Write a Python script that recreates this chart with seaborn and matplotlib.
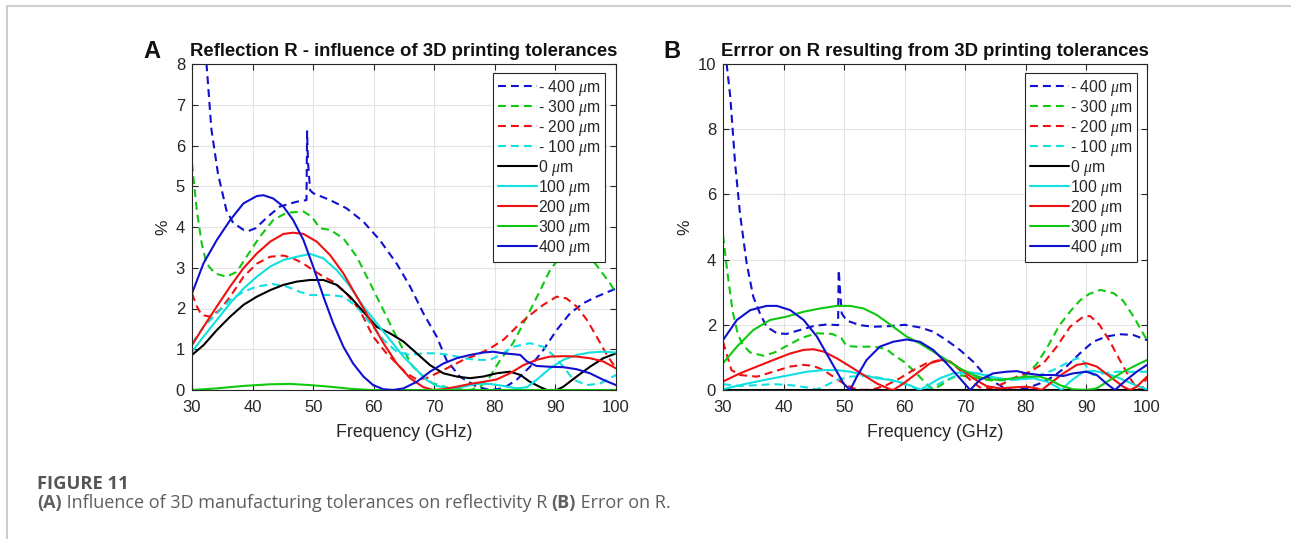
import matplotlib
matplotlib.use("Agg")
import matplotlib.pyplot as plt
import seaborn as sns
import pandas as pd
from matplotlib.lines import Line2D

# ---------------- Panel A : Reflection R (%) ----------------
A_m400_f = [30, 30.6, 31.2, 32.4, 33.2, 34.3, 35.7, 36.8, 38.5, 39.3, 40.5, 42.5, 44.5, 47.3, 48.9, 49.0, 49.15, 49.3, 49.5, 50, 52.8, 55.5, 58.3, 61, 63.8, 66, 68.2, 70.4, 72, 74.2, 77, 79.2, 81.4, 83.6, 85.8, 88, 90.2, 92.4, 94.6, 96.8, 100]
A_m400_v = [13, 11.5, 10, 8.0, 6.4, 5.3, 4.4, 4.1, 3.93, 3.9, 3.97, 4.25, 4.5, 4.62, 4.66, 6.35, 5.6, 5.3, 4.9, 4.83, 4.66, 4.46, 4.13, 3.68, 3.1, 2.54, 1.88, 1.31, 0.74, 0.33, 0.08, 0.0, 0.04, 0.25, 0.57, 0.98, 1.47, 1.88, 2.13, 2.29, 2.49]

A_m300_f = [30, 30.8, 31.6, 32.4, 33.8, 35.7, 37.4, 39, 41.2, 43.4, 45.6, 48.4, 49.8, 51.1, 52.8, 55, 57.2, 59.4, 61.6, 63.2, 64.9, 66.5, 68.2, 69.8, 72.6, 75.9, 77.6, 79.2, 80.9, 83, 85.3, 87.5, 89.1, 90.8, 92.4, 94.1, 95.7, 97.4, 99, 100]
A_m300_v = [5.56, 4.4, 3.6, 3.1, 2.86, 2.78, 2.9, 3.27, 3.76, 4.17, 4.35, 4.38, 4.25, 3.97, 3.93, 3.72, 3.27, 2.62, 1.96, 1.47, 0.98, 0.57, 0.33, 0.16, 0.04, 0.0, 0.08, 0.33, 0.74, 1.15, 1.8, 2.45, 2.94, 3.27, 3.44, 3.35, 3.27, 2.94, 2.62, 2.37]

A_m200_f = [30, 30.8, 31.6, 33, 34.6, 36.3, 38.5, 40.7, 42.9, 45.1, 46.7, 48.4, 50, 51.7, 53.3, 55.5, 57.7, 59.9, 62.1, 63.8, 65.4, 67.1, 68.7, 70.4, 72.6, 74.8, 77, 79.2, 81.4, 83.6, 85.8, 88, 90.2, 91.8, 93.5, 95.2, 96.8, 98.5, 100]
A_m200_v = [2.37, 2.05, 1.84, 1.8, 1.96, 2.29, 2.78, 3.1, 3.27, 3.3, 3.23, 3.1, 2.94, 2.78, 2.66, 2.37, 1.96, 1.31, 0.9, 0.65, 0.41, 0.26, 0.29, 0.41, 0.57, 0.74, 0.86, 1.02, 1.23, 1.55, 1.84, 2.09, 2.29, 2.25, 2.05, 1.72, 1.31, 0.86, 0.53]

A_m100_f = [30, 31.9, 34.1, 36.3, 38.5, 40.7, 43.4, 45.6, 47.8, 49.5, 51.1, 52.8, 55, 57.2, 59.4, 61.6, 63.8, 66, 68.2, 70.4, 72.6, 74.8, 77, 79.2, 80.9, 83, 85.8, 88, 89.6, 91.3, 93, 95.2, 97.4, 99, 100]
A_m100_v = [1.15, 1.55, 1.88, 2.21, 2.41, 2.54, 2.6, 2.54, 2.41, 2.33, 2.33, 2.33, 2.29, 2.05, 1.64, 1.23, 0.94, 0.86, 0.9, 0.9, 0.86, 0.78, 0.74, 0.74, 0.86, 1.06, 1.15, 1.06, 0.86, 0.57, 0.25, 0.12, 0.16, 0.29, 0.37]

A_0_f = [30, 31.9, 34.1, 36.3, 38.5, 40.7, 42.9, 45.1, 47.3, 49.5, 51.7, 53.9, 56.1, 58.3, 60.5, 62.7, 64.9, 67.1, 69.3, 71.5, 73.7, 75.9, 78.1, 80.3, 82.5, 84.2, 85.8, 87.5, 88.6, 90.2, 91.3, 93.5, 95.7, 97.9, 100]
A_0_v = [0.86, 1.1, 1.47, 1.8, 2.09, 2.29, 2.45, 2.58, 2.66, 2.7, 2.7, 2.58, 2.29, 1.92, 1.55, 1.39, 1.19, 0.9, 0.61, 0.41, 0.33, 0.29, 0.33, 0.41, 0.45, 0.37, 0.2, 0.07, 0.0, 0.0, 0.08, 0.33, 0.57, 0.78, 0.9]

A_100_f = [30, 31.9, 34.1, 36.3, 38.5, 40.7, 42.9, 45.1, 47.3, 49.5, 51.7, 53.9, 56.1, 58.3, 60.5, 62.7, 64.9, 67.1, 68.7, 70.4, 72.6, 74.8, 77, 79.2, 81.4, 83.6, 85.3, 86.9, 89.1, 91.3, 93.5, 95.7, 97.9, 100]
A_100_v = [0.94, 1.31, 1.72, 2.13, 2.49, 2.78, 3.03, 3.19, 3.27, 3.34, 3.23, 2.94, 2.54, 2.05, 1.64, 1.23, 0.82, 0.49, 0.25, 0.1, 0.04, 0.08, 0.15, 0.15, 0.1, 0.04, 0.07, 0.25, 0.53, 0.74, 0.86, 0.92, 0.94, 0.92]

A_200_f = [30, 31.9, 34.1, 36.3, 38.5, 40.7, 42.9, 45.1, 46.7, 48.4, 50.6, 52.8, 55, 57.2, 59.4, 61.6, 63.8, 66, 68.2, 69.8, 71.5, 73.7, 75.9, 78.1, 80.3, 82.5, 84.7, 86.9, 89.1, 91.3, 93.5, 95.7, 97.9, 100]
A_200_v = [1.1, 1.55, 2.05, 2.54, 2.99, 3.35, 3.64, 3.83, 3.86, 3.83, 3.64, 3.31, 2.86, 2.29, 1.72, 1.15, 0.65, 0.29, 0.07, 0.0, 0.02, 0.08, 0.15, 0.2, 0.26, 0.41, 0.61, 0.74, 0.82, 0.83, 0.82, 0.78, 0.7, 0.53]

A_300_f = [30, 34.1, 38.5, 42.9, 46.2, 49.5, 52.8, 56.1, 59.4, 65, 70, 75, 80, 85, 90, 95, 100]
A_300_v = [0.0, 0.04, 0.1, 0.14, 0.15, 0.12, 0.08, 0.03, 0.0, 0.0, 0.0, 0.0, 0.0, 0.0, 0.0, 0.0, 0.0]

A_400_f = [30, 31.9, 34.1, 36.3, 38.5, 40.7, 41.8, 43.4, 45.1, 46.7, 48.4, 50, 51.7, 53.3, 55, 56.6, 58.3, 59.9, 61.6, 63.2, 64.9, 67.1, 69.3, 71.5, 73.7, 75.9, 78.1, 79.7, 81.4, 83, 84.2, 85.3, 86.9, 89.1, 91.3, 93.5, 95.7, 97.9, 100]
A_400_v = [2.37, 3.11, 3.68, 4.17, 4.58, 4.76, 4.78, 4.7, 4.5, 4.17, 3.68, 3.03, 2.29, 1.64, 1.06, 0.65, 0.33, 0.12, 0.02, 0.0, 0.04, 0.2, 0.45, 0.65, 0.78, 0.86, 0.92, 0.94, 0.9, 0.88, 0.86, 0.7, 0.59, 0.57, 0.56, 0.51, 0.41, 0.25, 0.12]

# ---------------- Panel B : Error on R (%) ----------------
B_m400_f = [30, 30.6, 31.2, 32, 32.8, 33.9, 35, 36.1, 37.2, 38.9, 40.5, 42.7, 44.9, 47.1, 49.0, 49.1, 49.4, 49.6, 50.4, 52.6, 54.8, 57.6, 60, 62.5, 64.7, 66.9, 69.1, 71.3, 73, 74.6, 76.3, 77.9, 80.1, 82.3, 84.5, 86.7, 88.9, 91.1, 93.3, 95.5, 97.7, 100]
B_m400_v = [12, 10, 9.0, 6.95, 5.42, 3.89, 2.86, 2.35, 1.94, 1.74, 1.72, 1.84, 1.96, 2.01, 1.99, 3.68, 2.86, 2.35, 2.13, 1.99, 1.94, 1.96, 2.0, 1.92, 1.79, 1.53, 1.23, 0.87, 0.51, 0.26, 0.08, 0.0, 0.05, 0.2, 0.41, 0.72, 1.12, 1.48, 1.64, 1.71, 1.69, 1.53]

B_m300_f = [30, 30.8, 31.6, 32.4, 33.2, 34.5, 36.7, 38.5, 40.5, 43, 45.5, 48, 49.5, 50.4, 52, 55, 57, 58, 60, 62, 63.5, 64.7, 66, 67.5, 69, 71, 74, 77, 80, 81.8, 83.5, 85.6, 87.5, 89, 90.5, 92.3, 94.5, 96, 97.8, 99, 100]
B_m300_v = [4.75, 3.5, 2.4, 1.75, 1.4, 1.15, 1.05, 1.15, 1.35, 1.6, 1.74, 1.72, 1.6, 1.35, 1.33, 1.33, 1.25, 1.1, 0.85, 0.5, 0.2, 0.02, 0.15, 0.35, 0.45, 0.4, 0.3, 0.3, 0.45, 0.8, 1.3, 2.0, 2.45, 2.76, 2.95, 3.07, 2.97, 2.75, 2.25, 1.85, 1.53]

B_m200_f = [30, 31.4, 32.8, 35.6, 38.3, 41.1, 43.3, 44.9, 46.6, 48.2, 49.9, 51.5, 53.2, 54.8, 57, 59.2, 61.4, 63.6, 65.8, 67.5, 69.1, 70.8, 72.4, 74.1, 76.3, 78.5, 80.7, 82.9, 85.1, 87.3, 89.5, 90.6, 92.2, 93.9, 95.5, 97.2, 98.3, 99.1, 100]
B_m200_v = [1.48, 0.61, 0.46, 0.41, 0.56, 0.72, 0.77, 0.74, 0.61, 0.41, 0.2, 0.05, 0.0, 0.02, 0.15, 0.36, 0.61, 0.82, 0.92, 0.87, 0.61, 0.31, 0.08, 0.05, 0.2, 0.41, 0.56, 0.82, 1.33, 1.94, 2.25, 2.27, 1.99, 1.48, 0.92, 0.36, 0.05, 0.0, 0.41]

B_m100_f = [30, 32.8, 35.6, 38.3, 41.1, 43.8, 45.5, 47.1, 48.8, 51, 53.2, 55.4, 57.6, 59.8, 62, 63.1, 64.7, 66.9, 69.1, 71.3, 73.5, 75.7, 77.9, 80.1, 82.3, 84.5, 86.7, 88.4, 89.2, 90, 91.1, 92.8, 95, 97.2, 100]
B_m100_v = [0.18, 0.12, 0.15, 0.18, 0.15, 0.08, 0.02, 0.15, 0.31, 0.41, 0.43, 0.39, 0.31, 0.18, 0.05, 0.0, 0.1, 0.31, 0.49, 0.53, 0.46, 0.33, 0.31, 0.36, 0.46, 0.61, 0.82, 0.97, 0.97, 0.72, 0.46, 0.51, 0.56, 0.56, 0.56]

B_0_f = [30, 50, 70, 100]
B_0_v = [0.0, 0.0, 0.0, 0.0]

B_100_f = [30, 32.8, 35.6, 38.3, 41.1, 43.8, 46.6, 48.8, 51, 53.2, 55.4, 57.6, 59.8, 61.4, 62.5, 63.6, 65.8, 68, 70.2, 72.4, 74.6, 76.8, 79, 81.2, 83.4, 85.1, 85.9, 87.3, 89.5, 91.1, 93.3, 95.5, 97.7, 100]
B_100_v = [0.02, 0.15, 0.26, 0.36, 0.46, 0.56, 0.61, 0.61, 0.56, 0.46, 0.36, 0.31, 0.22, 0.1, 0.0, 0.12, 0.36, 0.51, 0.56, 0.49, 0.39, 0.33, 0.33, 0.36, 0.26, 0.1, 0.0, 0.26, 0.56, 0.59, 0.51, 0.36, 0.18, 0.02]

B_200_f = [30, 32.8, 35.6, 38.3, 41.1, 43.3, 44.9, 46.6, 48.8, 51, 53.2, 55.4, 57.6, 58.1, 59.8, 62, 64.2, 66.1, 67.5, 69.1, 71.3, 73.5, 75.7, 77.9, 80.1, 81.8, 82.6, 84, 86.2, 88.4, 90, 91.7, 93.9, 96.1, 97.2, 98.3, 100]
B_200_v = [0.26, 0.51, 0.72, 0.92, 1.12, 1.23, 1.25, 1.18, 0.97, 0.72, 0.46, 0.2, 0.02, 0.0, 0.2, 0.51, 0.82, 0.92, 0.87, 0.66, 0.36, 0.12, 0.05, 0.08, 0.1, 0.05, 0.0, 0.2, 0.51, 0.77, 0.82, 0.72, 0.41, 0.1, 0.0, 0.1, 0.41]

B_300_f = [30, 32.3, 35, 37.8, 40.5, 43.3, 46, 48.8, 51, 53.2, 55.4, 58.1, 60.3, 62.5, 64.7, 66.9, 69.1, 71.3, 73.5, 75.7, 77.9, 80.1, 82.3, 84, 85.6, 87.8, 90, 91.7, 93.9, 96.1, 98.3, 100]
B_300_v = [0.82, 1.33, 1.84, 2.15, 2.25, 2.4, 2.5, 2.58, 2.58, 2.5, 2.3, 1.94, 1.64, 1.43, 1.18, 0.92, 0.66, 0.46, 0.33, 0.31, 0.36, 0.41, 0.41, 0.31, 0.15, 0.02, 0.0, 0.05, 0.31, 0.56, 0.77, 0.92]

B_400_f = [30, 32.3, 34.5, 37.2, 38.9, 41.1, 43.3, 45.5, 47.7, 49.9, 51, 52.1, 53.7, 55.9, 58.1, 60.3, 62.5, 64.7, 66.9, 69.1, 70.8, 72.4, 74.6, 76.8, 78.5, 80.1, 82.3, 84.5, 86.2, 87.8, 90, 91.7, 93.3, 94.7, 96.6, 98.3, 100]
B_400_v = [1.53, 2.15, 2.45, 2.58, 2.58, 2.45, 2.15, 1.64, 0.92, 0.2, 0.0, 0.41, 0.92, 1.33, 1.48, 1.55, 1.48, 1.23, 0.82, 0.36, 0.0, 0.31, 0.51, 0.56, 0.58, 0.51, 0.46, 0.46, 0.43, 0.51, 0.56, 0.46, 0.2, 0.0, 0.31, 0.56, 0.77]

series_labels = ["- 400 $\\mu$m", "- 300 $\\mu$m", "- 200 $\\mu$m", "- 100 $\\mu$m",
                 "0 $\\mu$m", "100 $\\mu$m", "200 $\\mu$m", "300 $\\mu$m", "400 $\\mu$m"]
series_colors = ["#1010d0", "#10c810", "#f01010", "#10e0e0",
                 "#000000", "#10e0e0", "#f01010", "#10c810", "#1010d0"]
series_dashed = [True, True, True, True, False, False, False, False, False]

panel_A = [(A_m400_f, A_m400_v), (A_m300_f, A_m300_v), (A_m200_f, A_m200_v), (A_m100_f, A_m100_v),
           (A_0_f, A_0_v), (A_100_f, A_100_v), (A_200_f, A_200_v), (A_300_f, A_300_v), (A_400_f, A_400_v)]
panel_B = [(B_m400_f, B_m400_v), (B_m300_f, B_m300_v), (B_m200_f, B_m200_v), (B_m100_f, B_m100_v),
           (B_0_f, B_0_v), (B_100_f, B_100_v), (B_200_f, B_200_v), (B_300_f, B_300_v), (B_400_f, B_400_v)]

titles = ["Reflection R - influence of 3D printing tolerances",
          "Errror on R resulting from 3D printing tolerances"]
panel_letters = ["A", "B"]
y_limits = [(0, 8), (0, 10)]
y_ticks = [[0, 1, 2, 3, 4, 5, 6, 7, 8], [0, 2, 4, 6, 8, 10]]
x_ticks = [30, 40, 50, 60, 70, 80, 90, 100]

sns.set_theme(style="white")
plt.rcParams["font.family"] = ["Liberation Sans", "DejaVu Sans"]
plt.rcParams["mathtext.fontset"] = "custom"
plt.rcParams["mathtext.it"] = "Liberation Serif:italic"

W, H = 1291, 539
fig = plt.figure(figsize=(W / 100, H / 100), dpi=100)
fig.patch.set_facecolor("white")

axes_px = [(192, 64, 616, 390), (723, 64, 1147, 390)]
legend_right_px = [605, 1137]
letter_x_px = [152, 672]
AX_COL = "#262626"
DASH = (3.8, 2.4)

for k, panel in enumerate([panel_A, panel_B]):
    l, t, r, b = axes_px[k]
    ax = fig.add_axes([l / W, 1 - b / H, (r - l) / W, (b - t) / H])
    handles = []
    for (f, v), lab, col, dsh in zip(panel, series_labels, series_colors, series_dashed):
        df = pd.DataFrame({"freq": f, "val": v})
        kw = dict(dashes=DASH) if dsh else {}
        sns.lineplot(data=df, x="freq", y="val", ax=ax, color=col, linewidth=1.5,
                     sort=False, estimator=None, legend=False, **kw)
        handles.append(Line2D([], [], color=col, linewidth=1.5, **kw))
    ax.set_xlim(30, 100)
    ax.set_ylim(*y_limits[k])
    ax.set_xticks(x_ticks)
    ax.set_yticks(y_ticks[k])
    ax.grid(True, color="#e3e3e3", linewidth=0.8)
    ax.set_axisbelow(True)
    for s in ax.spines.values():
        s.set_visible(True)
        s.set_color(AX_COL)
        s.set_linewidth(0.8)
    ax.tick_params(direction="in", length=4, width=0.8, color=AX_COL,
                   top=True, right=True, bottom=True, left=True,
                   labelsize=12, labelcolor=AX_COL)
    ax.tick_params(axis="x", pad=7)
    ax.tick_params(axis="y", pad=5)
    ax.set_xlabel("Frequency (GHz)", fontsize=12.8, color=AX_COL, labelpad=7)
    ax.set_ylabel("%", fontsize=12.5, color=AX_COL, labelpad=4)
    ax.set_title(titles[k], fontsize=13.3, fontweight="bold", color="#111111", pad=6)
    ax.text((letter_x_px[k] - l) / (r - l), 1 + 13 / (b - t), panel_letters[k],
            transform=ax.transAxes, fontsize=17, fontweight="bold", color="#111111",
            ha="center", va="center")
    leg = ax.legend(handles, series_labels, loc="upper right",
                    bbox_to_anchor=((legend_right_px[k] - l) / (r - l), 1 - 9 / (b - t)),
                    borderaxespad=0, fontsize=11.3, frameon=True, fancybox=False,
                    framealpha=1, edgecolor=AX_COL, handlelength=2.5, handletextpad=0.05,
                    labelspacing=0.0, borderpad=0.3)
    leg.get_frame().set_linewidth(0.8)
    for txt in leg.get_texts():
        txt.set_color(AX_COL)

# figure frame (light grey lines at top and left)
fig.add_artist(Line2D([7 / W, 1], [1 - 6 / H, 1 - 6 / H], transform=fig.transFigure,
                      color="#cfcfcf", linewidth=1.5))
fig.add_artist(Line2D([7 / W, 7 / W], [0, 1 - 6 / H], transform=fig.transFigure,
                      color="#cfcfcf", linewidth=1.5))

# caption
cap_font = ["Open Sans", "DejaVu Sans"]
fig.text(37 / W, 1 - 484 / H, "FIGURE 11", fontsize=13.2, color="#555555",
         family=cap_font, fontweight="bold", va="center", ha="left")
pieces = [("(A)", "bold"), (" Influence of 3D manufacturing tolerances on reflectivity R ", "normal"),
          ("(B)", "bold"), (" Error on R.", "normal")]
fig.canvas.draw()
renderer = fig.canvas.get_renderer()
x = 37
for txt, wt in pieces:
    tobj = fig.text(x / W, 1 - 503 / H, txt, fontsize=13, color="#5f5f5f",
                    family=cap_font, fontweight=wt, va="center", ha="left")
    bb = tobj.get_window_extent(renderer=renderer)
    x += bb.width

fig.savefig("out.png", dpi=100, facecolor="white")
